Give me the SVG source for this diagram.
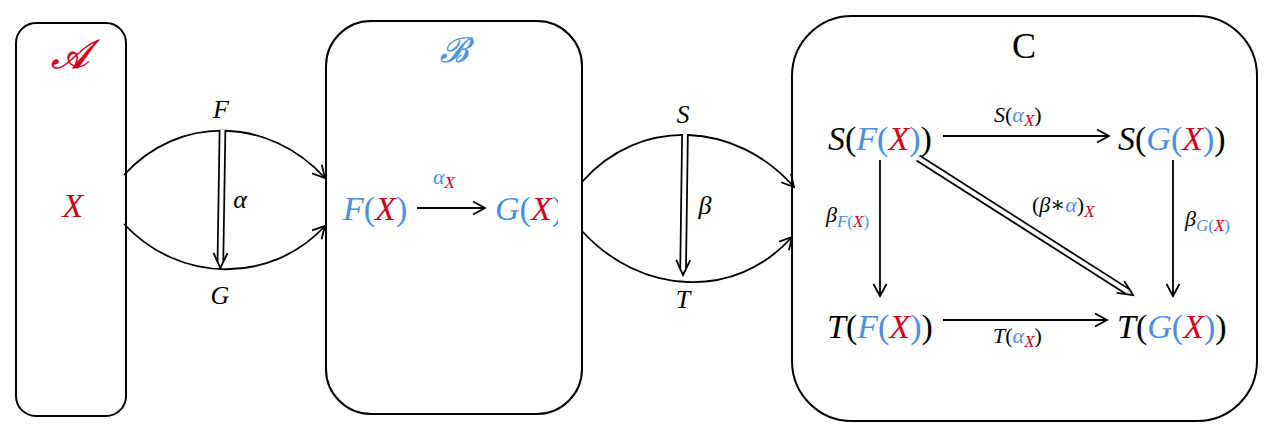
<svg xmlns="http://www.w3.org/2000/svg" width="1274" height="430" viewBox="0 0 1274 430">
<style>
.box{fill:none;stroke:#000;stroke-width:2}
.m{font-family:"Liberation Serif","DejaVu Serif",serif;font-style:italic;fill:#000}
.u{font-style:normal}
.r{fill:#D0021B}
.b{fill:#4A90E2}
.ln{fill:none;stroke:#000;stroke-width:1.8}
.dO{fill:none;stroke:#000;stroke-width:7.5}
.dI{fill:none;stroke:#fff;stroke-width:4}
.big{font-size:34px}
.lab{font-size:26px}
.sm{font-size:22px}
.sub{font-size:17px}
</style>
<defs>
<marker id="arr" markerUnits="userSpaceOnUse" viewBox="-14 -9 18 18" refX="0" refY="0" markerWidth="18" markerHeight="18" orient="auto">
<path d="M-12,-6.5 L0,0 L-12,6.5" fill="none" stroke="#000" stroke-width="1.8"/>
</marker>
<marker id="darr" markerUnits="userSpaceOnUse" viewBox="-16 -10 26 20" refX="0" refY="0" markerWidth="26" markerHeight="20" orient="auto">
<path d="M-9,-7 L6,0 L-9,7" fill="none" stroke="#000" stroke-width="1.8"/>
</marker>
<clipPath id="clipG"><rect x="480" y="180" width="78" height="60"/></clipPath>
</defs>

<g id="boxA">
<rect class="box" x="16" y="23" width="110" height="393" rx="20"/>
<text class="m r" x="70" y="68" font-size="40" text-anchor="middle" font-style="normal" stroke="#D0021B" stroke-width="0.7">𝒜</text>
<text class="m r big" x="73" y="217" text-anchor="middle">X</text>
</g>

<g id="boxB">
<rect class="box" x="326" y="21" width="256" height="393" rx="45"/>
<text class="m b" x="454" y="62" font-size="34" text-anchor="middle" font-style="normal" stroke="#4A90E2" stroke-width="0.5">ℬ</text>
<text class="m big" x="343" y="220"><tspan class="b">F</tspan><tspan class="u b">(</tspan><tspan class="r">X</tspan><tspan class="u b">)</tspan></text>
<text class="m big" x="495" y="220" clip-path="url(#clipG)"><tspan class="b">G</tspan><tspan class="u b">(</tspan><tspan class="r">X</tspan><tspan class="u b">)</tspan></text>
</g>

<g id="boxC">
<rect class="box" x="792" y="16" width="465" height="405" rx="60"/>
<text x="1024" y="58" font-family="Liberation Serif, DejaVu Serif, serif" font-size="36" text-anchor="middle">C</text>
<text class="m big" x="828" y="150"><tspan>S</tspan><tspan class="u">(</tspan><tspan class="b">F</tspan><tspan class="u b">(</tspan><tspan class="r">X</tspan><tspan class="u b">)</tspan><tspan class="u">)</tspan></text>
<text class="m big" x="1118" y="150"><tspan>S</tspan><tspan class="u">(</tspan><tspan class="b">G</tspan><tspan class="u b">(</tspan><tspan class="r">X</tspan><tspan class="u b">)</tspan><tspan class="u">)</tspan></text>
<text class="m big" x="827" y="338"><tspan>T</tspan><tspan class="u">(</tspan><tspan class="b">F</tspan><tspan class="u b">(</tspan><tspan class="r">X</tspan><tspan class="u b">)</tspan><tspan class="u">)</tspan></text>
<text class="m big" x="1117" y="338"><tspan>T</tspan><tspan class="u">(</tspan><tspan class="b">G</tspan><tspan class="u b">(</tspan><tspan class="r">X</tspan><tspan class="u b">)</tspan><tspan class="u">)</tspan></text>
</g>

<g id="connectors">
<path class="ln" d="M124,175 C179,114 270,117 325,178" marker-end="url(#arr)"/>
<path class="ln" d="M124,224 C179,283 270,285 325,226" marker-end="url(#arr)"/>
<path class="dO" d="M222.5,130 L220.4,262" marker-end="url(#darr)"/>
<path class="dI" d="M222.5,130 L220.4,262"/>
<text class="m lab" x="221" y="118" text-anchor="middle">F</text>
<text class="m lab" x="220" y="304" text-anchor="middle">G</text>
<text class="m lab" x="240" y="208" text-anchor="middle">α</text>

<path class="ln" d="M417,208 L485,208" marker-end="url(#arr)"/>
<text class="m sm" x="433" y="184"><tspan class="b">α</tspan><tspan class="r sub" dy="4">X</tspan></text>

<path class="ln" d="M582,182 C640,116 736,121 794,187" marker-end="url(#arr)"/>
<path class="ln" d="M582,231 C640,295 735,301 792,237" marker-end="url(#arr)"/>
<path class="dO" d="M685,134 L683.1,269" marker-end="url(#darr)"/>
<path class="dI" d="M685,134 L683.1,269"/>
<text class="m lab" x="683" y="123" text-anchor="middle">S</text>
<text class="m lab" x="683" y="308" text-anchor="middle">T</text>
<text class="m lab" x="705" y="214" text-anchor="middle">β</text>

<path class="ln" d="M943,136 L1109,136" marker-end="url(#arr)"/>
<path class="ln" d="M943,320 L1107,320" marker-end="url(#arr)"/>
<path class="ln" d="M880,160 L880,296" marker-end="url(#arr)"/>
<path class="ln" d="M1173,160 L1173,296" marker-end="url(#arr)"/>
<path class="dO" d="M918,158 L1128,291.8" marker-end="url(#darr)"/>
<path class="dI" d="M918,158 L1128,291.8"/>

<text class="m sm" x="994" y="122">S<tspan class="u">(</tspan><tspan class="b">α</tspan><tspan class="r sub" dy="4">X</tspan><tspan class="u" dy="-4">)</tspan></text>
<text class="m sm" x="993" y="343">T<tspan class="u">(</tspan><tspan class="b">α</tspan><tspan class="r sub" dy="4">X</tspan><tspan class="u" dy="-4">)</tspan></text>
<text class="m sm" x="826" y="222">β<tspan class="sub b" dy="5">F</tspan><tspan class="sub u b">(</tspan><tspan class="sub r">X</tspan><tspan class="sub u b">)</tspan></text>
<text class="m sm" x="1185" y="226">β<tspan class="sub b" dy="5">G</tspan><tspan class="sub u b">(</tspan><tspan class="sub r">X</tspan><tspan class="sub u b">)</tspan></text>
<text class="m sm" x="1032" y="212"><tspan class="u">(</tspan>β<tspan class="u">∗</tspan><tspan class="b">α</tspan><tspan class="u">)</tspan><tspan class="r sub" dy="5">X</tspan></text>
</g>
</svg>
